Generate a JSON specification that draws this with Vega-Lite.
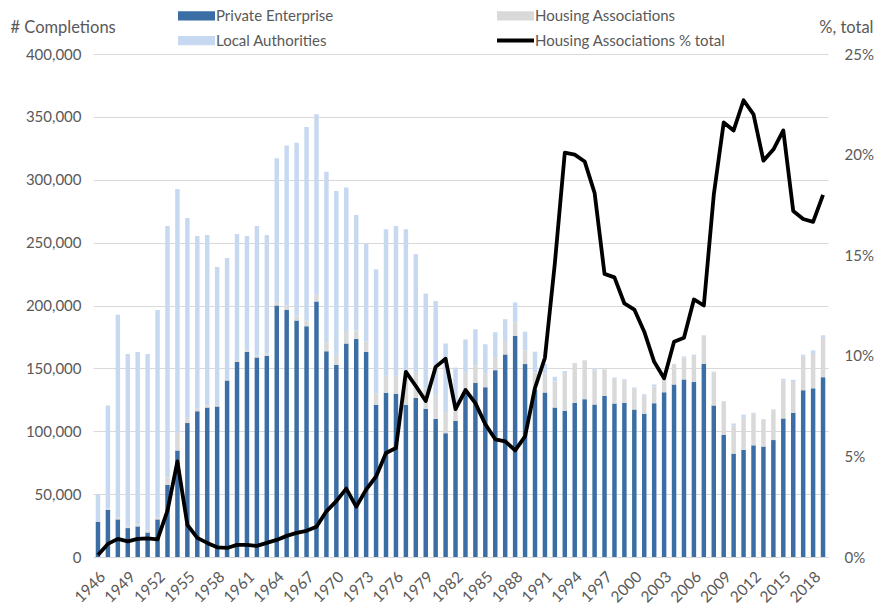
{
  "$schema": "https://vega.github.io/schema/vega-lite/v6.json",
  "width": 735,
  "height": 503,
  "autosize": {"type": "none"},
  "padding": {"left": 93, "top": 54, "right": 47, "bottom": 50},
  "background": "white",
  "config": {
    "font": "Lato",
    "view": {"stroke": null},
    "axis": {"labelFont": "Lato", "labelColor": "#595959", "labelFontSize": 15, "titleFont": "Lato", "titleColor": "#595959", "titleFontWeight": "normal", "titleFontSize": 16.5}
  },
  "datasets": {
    "tenures": [
      {"tenure": "Private Enterprise", "rank": 1},
      {"tenure": "Housing Associations", "rank": 2},
      {"tenure": "Local Authorities", "rank": 3}
    ],
    "d": [
      {"year": 1946, "Private Enterprise": 28000, "Housing Associations": 50, "Local Authorities": 21350, "pct": 0.001},
      {"year": 1947, "Private Enterprise": 37600, "Housing Associations": 780, "Local Authorities": 82120, "pct": 0.0065},
      {"year": 1948, "Private Enterprise": 29900, "Housing Associations": 1730, "Local Authorities": 161070, "pct": 0.009},
      {"year": 1949, "Private Enterprise": 23000, "Housing Associations": 1260, "Local Authorities": 137140, "pct": 0.0078},
      {"year": 1950, "Private Enterprise": 24300, "Housing Associations": 1470, "Local Authorities": 137230, "pct": 0.009},
      {"year": 1951, "Private Enterprise": 19500, "Housing Associations": 1500, "Local Authorities": 140400, "pct": 0.0093},
      {"year": 1952, "Private Enterprise": 29900, "Housing Associations": 1730, "Local Authorities": 164870, "pct": 0.0088},
      {"year": 1953, "Private Enterprise": 57300, "Housing Associations": 6100, "Local Authorities": 199900, "pct": 0.023},
      {"year": 1954, "Private Enterprise": 84700, "Housing Associations": 13900, "Local Authorities": 194100, "pct": 0.0475},
      {"year": 1955, "Private Enterprise": 106500, "Housing Associations": 4300, "Local Authorities": 158700, "pct": 0.016},
      {"year": 1956, "Private Enterprise": 115900, "Housing Associations": 2400, "Local Authorities": 136900, "pct": 0.0095},
      {"year": 1957, "Private Enterprise": 118800, "Housing Associations": 1800, "Local Authorities": 135400, "pct": 0.007},
      {"year": 1958, "Private Enterprise": 119700, "Housing Associations": 1100, "Local Authorities": 109900, "pct": 0.0048},
      {"year": 1959, "Private Enterprise": 140400, "Housing Associations": 1070, "Local Authorities": 96230, "pct": 0.0045},
      {"year": 1960, "Private Enterprise": 155200, "Housing Associations": 1540, "Local Authorities": 100060, "pct": 0.006},
      {"year": 1961, "Private Enterprise": 163000, "Housing Associations": 1530, "Local Authorities": 90670, "pct": 0.006},
      {"year": 1962, "Private Enterprise": 158700, "Housing Associations": 1450, "Local Authorities": 103150, "pct": 0.0055},
      {"year": 1963, "Private Enterprise": 160100, "Housing Associations": 1790, "Local Authorities": 94110, "pct": 0.007},
      {"year": 1964, "Private Enterprise": 200000, "Housing Associations": 2700, "Local Authorities": 114300, "pct": 0.0085},
      {"year": 1965, "Private Enterprise": 196600, "Housing Associations": 3440, "Local Authorities": 127260, "pct": 0.0105},
      {"year": 1966, "Private Enterprise": 188000, "Housing Associations": 3950, "Local Authorities": 137550, "pct": 0.012},
      {"year": 1967, "Private Enterprise": 183500, "Housing Associations": 4440, "Local Authorities": 153960, "pct": 0.013},
      {"year": 1968, "Private Enterprise": 203200, "Housing Associations": 5280, "Local Authorities": 143520, "pct": 0.015},
      {"year": 1969, "Private Enterprise": 163600, "Housing Associations": 6960, "Local Authorities": 135840, "pct": 0.0227},
      {"year": 1970, "Private Enterprise": 152800, "Housing Associations": 8090, "Local Authorities": 130110, "pct": 0.0278},
      {"year": 1971, "Private Enterprise": 169800, "Housing Associations": 9990, "Local Authorities": 114010, "pct": 0.034},
      {"year": 1972, "Private Enterprise": 173300, "Housing Associations": 6800, "Local Authorities": 91900, "pct": 0.025},
      {"year": 1973, "Private Enterprise": 163000, "Housing Associations": 8340, "Local Authorities": 77760, "pct": 0.0335},
      {"year": 1974, "Private Enterprise": 121000, "Housing Associations": 9150, "Local Authorities": 98650, "pct": 0.04},
      {"year": 1975, "Private Enterprise": 130700, "Housing Associations": 13480, "Local Authorities": 116520, "pct": 0.0517},
      {"year": 1976, "Private Enterprise": 129900, "Housing Associations": 14270, "Local Authorities": 119030, "pct": 0.0542},
      {"year": 1977, "Private Enterprise": 121000, "Housing Associations": 23980, "Local Authorities": 115720, "pct": 0.092},
      {"year": 1978, "Private Enterprise": 126700, "Housing Associations": 20480, "Local Authorities": 93720, "pct": 0.085},
      {"year": 1979, "Private Enterprise": 117800, "Housing Associations": 16230, "Local Authorities": 75370, "pct": 0.0775},
      {"year": 1980, "Private Enterprise": 109700, "Housing Associations": 19230, "Local Authorities": 74570, "pct": 0.0945},
      {"year": 1981, "Private Enterprise": 98400, "Housing Associations": 16730, "Local Authorities": 54670, "pct": 0.0985},
      {"year": 1982, "Private Enterprise": 108300, "Housing Associations": 11070, "Local Authorities": 31230, "pct": 0.0735},
      {"year": 1983, "Private Enterprise": 132100, "Housing Associations": 14360, "Local Authorities": 26540, "pct": 0.083},
      {"year": 1984, "Private Enterprise": 138500, "Housing Associations": 13850, "Local Authorities": 28750, "pct": 0.0765},
      {"year": 1985, "Private Enterprise": 135000, "Housing Associations": 11170, "Local Authorities": 23030, "pct": 0.066},
      {"year": 1986, "Private Enterprise": 148600, "Housing Associations": 10450, "Local Authorities": 19650, "pct": 0.0585},
      {"year": 1987, "Private Enterprise": 161100, "Housing Associations": 10870, "Local Authorities": 17130, "pct": 0.0575},
      {"year": 1988, "Private Enterprise": 175800, "Housing Associations": 10730, "Local Authorities": 15870, "pct": 0.053},
      {"year": 1989, "Private Enterprise": 153400, "Housing Associations": 10750, "Local Authorities": 15050, "pct": 0.06},
      {"year": 1990, "Private Enterprise": 133000, "Housing Associations": 13720, "Local Authorities": 16580, "pct": 0.084},
      {"year": 1991, "Private Enterprise": 130800, "Housing Associations": 15190, "Local Authorities": 7410, "pct": 0.099},
      {"year": 1992, "Private Enterprise": 118800, "Housing Associations": 20920, "Local Authorities": 3580, "pct": 0.146},
      {"year": 1993, "Private Enterprise": 116100, "Housing Associations": 29710, "Local Authorities": 1990, "pct": 0.201},
      {"year": 1994, "Private Enterprise": 122500, "Housing Associations": 30840, "Local Authorities": 860, "pct": 0.2},
      {"year": 1995, "Private Enterprise": 125500, "Housing Associations": 30790, "Local Authorities": 310, "pct": 0.1966},
      {"year": 1996, "Private Enterprise": 121200, "Housing Associations": 27040, "Local Authorities": 1160, "pct": 0.181},
      {"year": 1997, "Private Enterprise": 128100, "Housing Associations": 21020, "Local Authorities": 280, "pct": 0.1407},
      {"year": 1998, "Private Enterprise": 122000, "Housing Associations": 19850, "Local Authorities": 950, "pct": 0.139},
      {"year": 1999, "Private Enterprise": 122500, "Housing Associations": 17820, "Local Authorities": 1080, "pct": 0.126},
      {"year": 2000, "Private Enterprise": 117200, "Housing Associations": 16580, "Local Authorities": 1020, "pct": 0.123},
      {"year": 2001, "Private Enterprise": 113700, "Housing Associations": 14490, "Local Authorities": 1210, "pct": 0.112},
      {"year": 2002, "Private Enterprise": 122300, "Housing Associations": 13310, "Local Authorities": 1590, "pct": 0.097},
      {"year": 2003, "Private Enterprise": 131000, "Housing Associations": 12200, "Local Authorities": 200, "pct": 0.0888},
      {"year": 2004, "Private Enterprise": 137200, "Housing Associations": 16200, "Local Authorities": 200, "pct": 0.107},
      {"year": 2005, "Private Enterprise": 141200, "Housing Associations": 17390, "Local Authorities": 910, "pct": 0.109},
      {"year": 2006, "Private Enterprise": 139100, "Housing Associations": 20600, "Local Authorities": 1200, "pct": 0.128},
      {"year": 2007, "Private Enterprise": 153600, "Housing Associations": 22040, "Local Authorities": 660, "pct": 0.125},
      {"year": 2008, "Private Enterprise": 120500, "Housing Associations": 26530, "Local Authorities": 370, "pct": 0.18},
      {"year": 2009, "Private Enterprise": 97000, "Housing Associations": 26780, "Local Authorities": 220, "pct": 0.216},
      {"year": 2010, "Private Enterprise": 82200, "Housing Associations": 22510, "Local Authorities": 1490, "pct": 0.212},
      {"year": 2011, "Private Enterprise": 85200, "Housing Associations": 25700, "Local Authorities": 2300, "pct": 0.227},
      {"year": 2012, "Private Enterprise": 88800, "Housing Associations": 25260, "Local Authorities": 740, "pct": 0.22},
      {"year": 2013, "Private Enterprise": 87800, "Housing Associations": 21590, "Local Authorities": 210, "pct": 0.197},
      {"year": 2014, "Private Enterprise": 93000, "Housing Associations": 23770, "Local Authorities": 630, "pct": 0.2025},
      {"year": 2015, "Private Enterprise": 110200, "Housing Associations": 30040, "Local Authorities": 1460, "pct": 0.212},
      {"year": 2016, "Private Enterprise": 114800, "Housing Associations": 24230, "Local Authorities": 1870, "pct": 0.172},
      {"year": 2017, "Private Enterprise": 132600, "Housing Associations": 27030, "Local Authorities": 1270, "pct": 0.168},
      {"year": 2018, "Private Enterprise": 134100, "Housing Associations": 27370, "Local Authorities": 2830, "pct": 0.1666},
      {"year": 2019, "Private Enterprise": 143000, "Housing Associations": 31730, "Local Authorities": 1570, "pct": 0.18}
    ]
  },
  "layer": [
    {
      "data": {"name": "d"},
      "transform": [
        {"fold": ["Private Enterprise", "Housing Associations", "Local Authorities"], "as": ["tenure", "n"]},
        {"lookup": "tenure", "from": {"data": {"name": "tenures"}, "key": "tenure", "fields": ["rank"]}}
      ],
      "mark": {"type": "bar"},
      "encoding": {
        "x": {
          "field": "year", "type": "ordinal",
          "scale": {"paddingInner": 0.55, "paddingOuter": 0.275},
          "axis": {
            "title": null, "values": [1946,1949,1952,1955,1958,1961,1964,1967,1970,1973,1976,1979,1982,1985,1988,1991,1994,1997,2000,2003,2006,2009,2012,2015,2018],
            "labelAngle": -45, "labelAlign": "right", "labelBaseline": "top", "labelFontSize": 15.5,
            "ticks": false, "domain": false, "labelPadding": 12, "grid": false
          }
        },
        "y": {
          "field": "n", "type": "quantitative", "stack": "zero",
          "scale": {"domain": [0, 400000]},
          "axis": {
            "values": [0,50000,100000,150000,200000,250000,300000,350000,400000],
            "labelExpr": "format(datum.value, ',')", "ticks": false, "domain": false, "labelPadding": 12,
            "grid": true, "gridColor": "#D9D9D9", "gridWidth": 1,
            "title": "# Completions", "titleAngle": 0, "titleAlign": "left", "titleBaseline": "middle",
            "titleX": -83, "titleY": -27
          }
        },
        "color": {
          "field": "tenure", "type": "nominal",
          "scale": {
            "domain": ["Private Enterprise", "Local Authorities", "Housing Associations", "Housing Associations % total"],
            "range": ["#3A6EA5", "#C6D9F1", "#D9D9D9", "#000000"]
          },
          "legend": {
            "title": null, "orient": "none", "legendX": 96, "legendY": -46, "columns": 2,
            "columnPadding": 155, "rowPadding": 8, "padding": 0,
            "labelFont": "Lato", "labelFontSize": 15, "labelColor": "#595959", "labelOffset": 12, "labelLimit": 300,
            "symbolSize": 1369, "symbolType": "M-1,-0.25H1V0.25H-1Z", "symbolStrokeWidth": 0,
            "encode": {
              "symbols": {
                "update": {
                  "shape": {"signal": "datum.value === 'Housing Associations % total' ? 'stroke' : 'M-1,-0.25H1V0.25H-1Z'"},
                  "stroke": {"signal": "datum.value === 'Housing Associations % total' ? '#000000' : 'transparent'"},
                  "strokeWidth": {"signal": "datum.value === 'Housing Associations % total' ? 4 : 0"}
                }
              }
            }
          }
        },
        "order": {"field": "rank", "type": "quantitative"}
      }
    },
    {
      "data": {"name": "d"},
      "mark": {"type": "line", "strokeWidth": 3.8, "strokeJoin": "round"},
      "encoding": {
        "x": {"field": "year", "type": "ordinal"},
        "y": {
          "field": "pct", "type": "quantitative",
          "scale": {"domain": [0, 0.25]},
          "axis": {
            "orient": "right", "values": [0,0.05,0.1,0.15,0.2,0.25], "format": ".0%",
            "ticks": false, "domain": false, "grid": false, "labelPadding": 16,
            "title": "%, total", "titleAngle": 0, "titleAlign": "right", "titleBaseline": "middle",
            "titleX": 45, "titleY": -27
          }
        },
        "color": {"datum": "Housing Associations % total"}
      }
    }
  ],
  "resolve": {"scale": {"y": "independent"}}
}
